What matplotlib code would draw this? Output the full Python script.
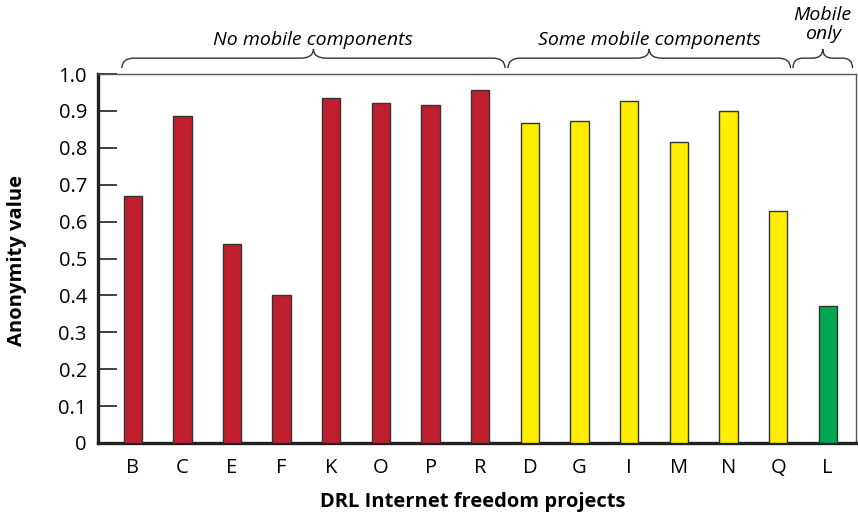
import numpy as np
import matplotlib.pyplot as plt
from matplotlib.path import Path
from matplotlib.patches import PathPatch
import matplotlib.transforms as mtransforms

plt.rcParams['font.family'] = ['Open Sans', 'DejaVu Sans']

projects = ['B', 'C', 'E', 'F', 'K', 'O', 'P', 'R',
            'D', 'G', 'I', 'M', 'N', 'Q', 'L']
values = [0.670, 0.885, 0.538, 0.400, 0.935, 0.921, 0.915, 0.957,
          0.866, 0.873, 0.928, 0.817, 0.900, 0.628, 0.370]
groups = ['none'] * 8 + ['some'] * 6 + ['only']
group_colors = {'none': '#BE1E2D', 'some': '#FFED00', 'only': '#00A651'}
brace_labels = ['No mobile components', 'Some mobile components', 'Mobile\nonly']
brace_spans = [(-0.22, 7.5), (7.56, 13.25), (13.3, 14.5)]

fig = plt.figure(figsize=(8.58, 5.17), dpi=100)
ax = fig.add_axes([98 / 858, 74 / 517, 758 / 858, 369 / 517])

x = np.arange(len(projects))
ax.bar(x, values, width=0.37, color=[group_colors[g] for g in groups],
       edgecolor='#333333', linewidth=1.0, zorder=3)

ax.set_xlim(-0.7, 14.57)
ax.set_ylim(0, 1.0)
ax.set_xticks(x)
ax.set_xticklabels(projects)
ax.set_yticks(np.arange(0, 1.01, 0.1))
ax.set_yticklabels(['0'] + ['%.1f' % v for v in np.arange(0.1, 1.01, 0.1)])
ax.tick_params(axis='y', direction='in', length=14, width=1.3, pad=8,
               labelsize=14.5, color='#333333')
ax.tick_params(axis='x', length=0, pad=11, labelsize=14.5)

for s in ['left', 'bottom']:
    ax.spines[s].set_linewidth(2.4)
    ax.spines[s].set_color('#222222')
for s in ['top', 'right']:
    ax.spines[s].set_linewidth(1.0)
    ax.spines[s].set_color('#555555')

fig.text(17 / 858, 1 - 260 / 517, 'Anonymity value', rotation=90,
         ha='center', va='center', fontsize=14.5, fontweight='bold')
fig.text(473 / 858, 1 - 502 / 517, 'DRL Internet freedom projects',
         ha='center', va='center', fontsize=14.5, fontweight='bold')

# curly braces above the groups
trans = mtransforms.blended_transform_factory(ax.transData, ax.transAxes)
y_end, y_mid, y_peak = 1.016, 1.043, 1.068
for (x0, x1), label in zip(brace_spans, brace_labels):
    xm = (x0 + x1) / 2
    r = min(0.25, (x1 - x0) / 6)
    verts = [(x0, y_end), (x0, y_mid), (x0 + r, y_mid),
             (xm - r, y_mid),
             (xm, y_mid), (xm, y_peak),
             (xm, y_mid), (xm + r, y_mid),
             (x1 - r, y_mid),
             (x1, y_mid), (x1, y_end)]
    codes = [Path.MOVETO, Path.CURVE3, Path.CURVE3,
             Path.LINETO,
             Path.CURVE3, Path.CURVE3,
             Path.CURVE3, Path.CURVE3,
             Path.LINETO,
             Path.CURVE3, Path.CURVE3]
    ax.add_patch(PathPatch(Path(verts, codes), facecolor='none',
                           edgecolor='#333333', linewidth=1.0,
                           transform=trans, clip_on=False))
    lines = label.split('\n')
    base = 1.0786 if len(lines) == 1 else 1.095
    for i, line in enumerate(reversed(lines)):
        ax.text(xm, base + i * 0.0515, line, transform=trans, ha='center',
                va='baseline', fontsize=14, fontstyle='italic')

fig.savefig('out.png', dpi=100)
